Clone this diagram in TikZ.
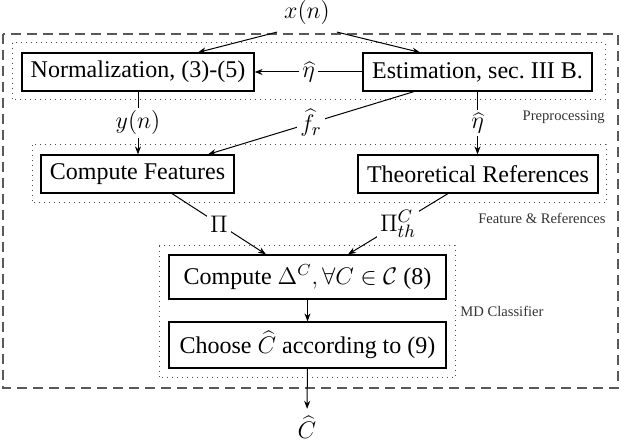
\documentclass[tikz,border=0pt]{standalone}
\usepackage{fontspec}
\setmainfont{Liberation Serif}
\usetikzlibrary{arrows.meta,calc}
\begin{document}
\begin{tikzpicture}[x=0.5pt,y=-0.5pt,
  every node/.style={font=\fontsize{12}{14}\selectfont},
  mathlbl/.style={font=\fontsize{13}{15}\selectfont},
  box/.style={draw,line width=0.6pt,minimum height=19pt,inner sep=0pt},
  lbl/.style={mathlbl,fill=white,inner sep=1.5pt},
  small/.style={font=\fontsize{7.3}{8}\selectfont,text=black!80,inner sep=0pt},
  arr/.style={-{Stealth[length=4pt,width=3pt]},line width=0.5pt},
  grp/.style={dotted,line width=0.5pt,draw=black!70},
  outer/.style={dash pattern=on 5pt off 3pt,line width=1pt,draw=black!65}]
\useasboundingbox (0,0) rectangle (626,448);

% groups
\draw[outer] (3,34) rectangle (618,388);
\draw[grp] (12,43) rectangle (605,100);
\node[small,anchor=east] (lpre) at (605,117) {Preprocessing};
\draw[grp] (32,145) rectangle (606,203);
\node[small,anchor=east] (lfeat) at (606,218) {Feature \& References};
\draw[grp] (159,246) rectangle (455,378);
\node[small,anchor=west] (lmd) at (460,311) {MD Classifier};

% nodes
\node[mathlbl] (xn) at (307,13) {$x(n)$};
\node[box,minimum width=116pt] (norm) at (138,72) {Normalization, (3)-(5)};
\node[box,minimum width=114.5pt] (est) at (477.5,72) {Estimation, sec.\ III B.};
\node[box,minimum width=96.5pt] (cf) at (137.5,174) {Compute Features};
\node[box,minimum width=120pt] (tr) at (478,174) {Theoretical References};
\node[box,minimum width=138.5pt,minimum height=22pt] (cd) at (307.5,277) {Compute $\Delta^C, \forall C\in\mathcal{C}$ (8)};
\node[box,minimum width=138.5pt,minimum height=23pt] (ch) at (307.5,345) {Choose $\widehat{C}$ according to (9)};
\node[mathlbl] (chat) at (307,427) {$\widehat{C}$};

% connectors
\draw[arr] (xn.south west) -- ($(norm.north)+(60,0)$);
\draw[arr] (xn.south east) -- ($(est.north)+(-57.5,0)$);
\draw[arr] (est.west) -- node[lbl]{$\widehat{\eta}$} (norm.east);
\draw[arr] (norm.south) -- node[lbl]{$y(n)$} (norm.south |- cf.north);
\draw[arr] ($(est.south)+(-63.5,0)$) -- node[lbl]{$\widehat{f}_r$} ($(cf.north)+(70.5,0)$);
\draw[arr] (est.south) -- node[lbl]{$\widehat{\eta}$} (est.south |- tr.north);
\draw[arr] ($(cf.south)+(34.5,0)$) -- node[lbl]{$\Pi$} ($(cd.north)+(-41.5,0)$);
\draw[arr] ($(tr.south)+(-30,0)$) -- node[lbl]{$\Pi^C_{th}$} ($(cd.north)+(40.5,0)$);
\draw[arr] (cd) -- (ch);
\draw[arr] (ch) -- (chat);
\end{tikzpicture}
\end{document}
